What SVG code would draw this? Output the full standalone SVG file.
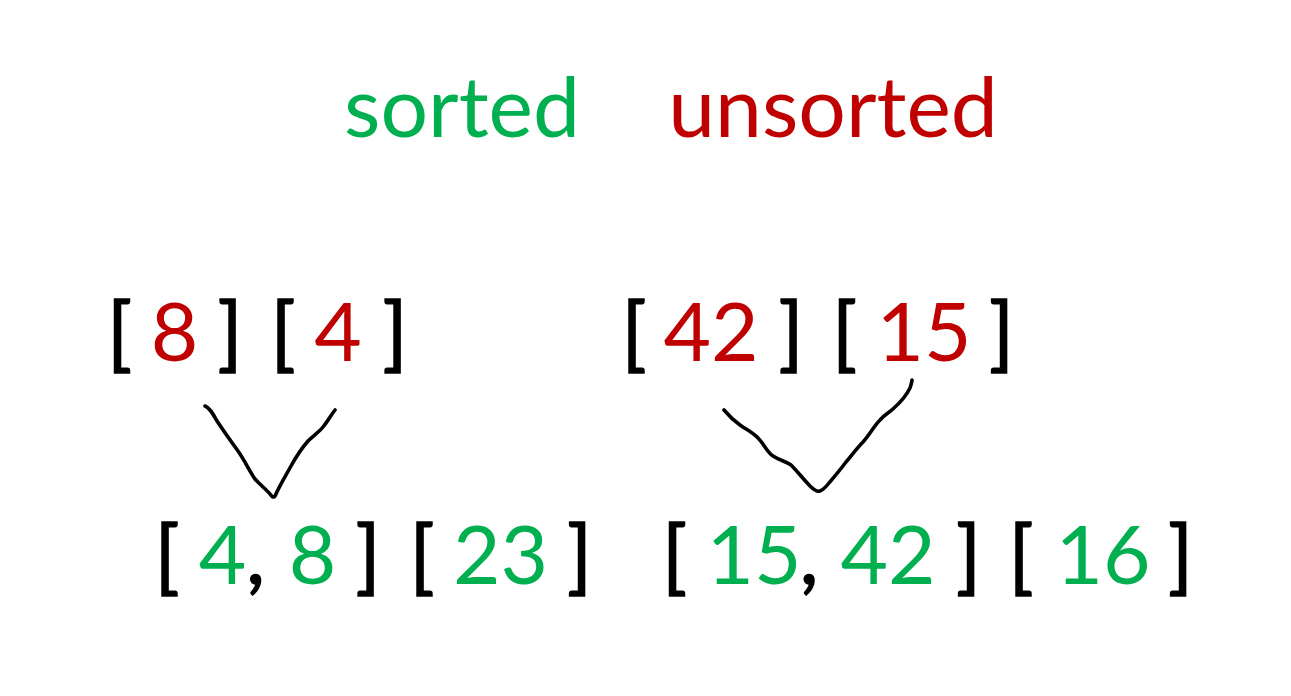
<svg xmlns="http://www.w3.org/2000/svg" width="1291" height="696" viewBox="0 0 1291 696">
<style>
text{font-family:Lato,"Open Sans","Liberation Sans",sans-serif;text-anchor:middle}
.t{font-size:84px}
.n{font-size:82px}
.k{fill:#000;stroke:#000;stroke-width:1.4}
.g{fill:#00B050}
.r{fill:#C00000}
.c{fill:none;stroke:#000;stroke-width:3.6;stroke-linecap:round;stroke-linejoin:round}
</style>
<rect width="1291" height="696" fill="#fff"/>
<g id="title-sorted"><text class="t g" x="462" y="137">sorted</text></g>
<g id="title-unsorted"><text class="t r" x="833" y="137">unsorted</text></g>
<g id="node-8">
<text class="n k" x="119.5" y="361">[</text><text class="n r" x="174.5" y="361">8</text><text class="n k" x="230" y="361">]</text>
</g>
<g id="node-4">
<text class="n k" x="283" y="361">[</text><text class="n r" x="338" y="361">4</text><text class="n k" x="395" y="361">]</text>
</g>
<g id="node-42">
<text class="n k" x="634" y="361">[</text><text class="n r" x="711" y="361">42</text><text class="n k" x="791" y="361">]</text>
</g>
<g id="node-15">
<text class="n k" x="844.5" y="361">[</text><text class="n r" x="924" y="361">15</text><text class="n k" x="1001.5" y="361">]</text>
</g>
<g id="node-4-8">
<text class="n k" x="167" y="584">[</text><text class="n g" x="222.5" y="584">4</text><text class="n k" x="255.5" y="584">,</text><text class="n g" x="312.5" y="584">8</text><text class="n k" x="368" y="584">]</text>
</g>
<g id="node-23">
<text class="n k" x="422" y="584">[</text><text class="n g" x="500.5" y="584">23</text><text class="n k" x="579.5" y="584">]</text>
</g>
<g id="node-15-42">
<text class="n k" x="674.5" y="584">[</text><text class="n g" x="754" y="584">15</text><text class="n k" x="809" y="584">,</text><text class="n g" x="888" y="584">42</text><text class="n k" x="968.5" y="584">]</text>
</g>
<g id="node-16">
<text class="n k" x="1021" y="584">[</text><text class="n g" x="1103" y="584">16</text><text class="n k" x="1180.5" y="584">]</text>
</g>
<g id="connectors">
<path class="c" d="M205,406 C210,408 213,414 217,421 C223,430 230,440 238,451 C245,461 250,472 255,479 C260,485 266,489 270,494 C272,497 274,499 276,494 C280,485 285,477 291,466 C296,457 301,449 308,441 C314,435 319,432 323,427 C328,421 331,415 335,410"/>
<path class="c" d="M724,410 C729,416 733,420 740,425 C747,430 752,432 758,438 C764,444 767,452 773,456 C779,460 785,461 791,465 C798,472 804,480 810,486 C814,490 817,492 820,491 C823,490 825,488 829,483 C835,476 840,470 846,462 C852,455 857,448 863,442 C870,434 874,426 880,420 C885,414 889,413 894,408 C902,401 907,394 910,388 C911,385 912,382 912,380"/>
</g>
</svg>
